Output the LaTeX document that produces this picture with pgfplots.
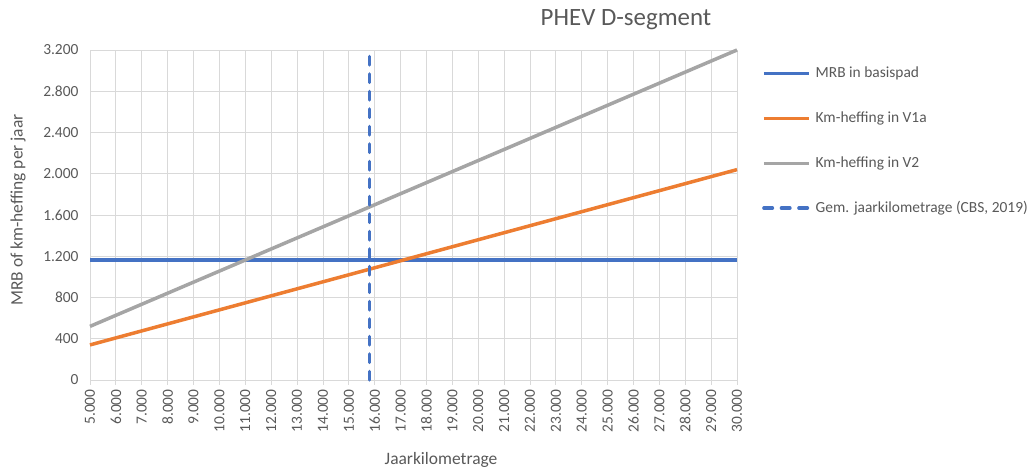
\documentclass[border=0pt]{standalone}
\usepackage{fontspec}
\setmainfont{Carlito}
\usepackage{pgfplots}
\pgfplotsset{compat=1.18}
\definecolor{cblue}{HTML}{4472C4}
\definecolor{corange}{HTML}{ED7D31}
\definecolor{cgray}{HTML}{A5A5A5}
\definecolor{gridc}{HTML}{D9D9D9}
\definecolor{textc}{HTML}{595959}
\begin{document}
\begin{tikzpicture}[x=1bp,y=1bp]
\path[use as bounding box] (0,0) rectangle (1034,472);
\begin{axis}[
  at={(90bp,92bp)}, anchor=south west,
  scale only axis, width=647bp, height=330bp,
  xmin=5000, xmax=30000, ymin=0, ymax=3200,
  xtick={5000,6000,...,30000}, ytick={0,400,...,3200},
  grid=major, grid style={color=gridc, line width=0.8bp},
  axis line style={gridc, line width=0.8bp},
  tick align=outside, major tick length=5bp,
  xtick style={gridc, line width=0.8bp}, ytick style={draw=none},
  xtick pos=bottom, ytick pos=left,
  tick label style={font=\fontsize{15.5}{18}\selectfont, text=textc},
  xticklabel style={rotate=90, anchor=east},
  xticklabel shift=1bp, yticklabel shift=3bp,
  scaled ticks=false,
  /pgf/number format/.cd, 1000 sep={.}, assume math mode=true,
  /pgfplots/.cd,
  clip=false,
  legend cell align=left,
  legend image code/.code={\draw[#1] (0bp,0bp) -- (45bp,0bp);},
  legend style={draw=none, fill=none, inner sep=0pt,
    at={(axis description cs:1.0386,0.953)}, anchor=north west,
    font=\fontsize{15.5}{18}\selectfont, text=textc,
    nodes={inner sep=0pt, text height=12bp, text depth=4bp},
    row sep=28.8bp, column sep=5bp},
]
\addplot[cblue, line width=3.5bp] coordinates {(5000,1165) (30000,1165)};
\addlegendentry{MRB in basispad}
\addplot[corange, line width=3.5bp] coordinates {(5000,340) (30000,2040)};
\addlegendentry{Km-heffing in V1a}
\addplot[cgray, line width=3.5bp] coordinates {(5000,520) (30000,3200)};
\addlegendentry{Km-heffing in V2}
\addplot[cblue, line width=3.5bp, line cap=round, dash pattern=on 8.5bp off 9bp] coordinates {(15800,0) (15800,3200)};
\addlegendentry{Gem. jaarkilometrage (CBS, 2019)}
\end{axis}
\node[text=textc, font=\fontsize{25}{28}\selectfont] at (626,452) {PHEV D-segment};
\node[text=textc, font=\fontsize{17.5}{20}\selectfont] at (441,12) {Jaarkilometrage};
\node[text=textc, font=\fontsize{17.5}{20}\selectfont, rotate=90] at (18,262) {MRB of km-heffing per jaar};
\end{tikzpicture}
\end{document}
